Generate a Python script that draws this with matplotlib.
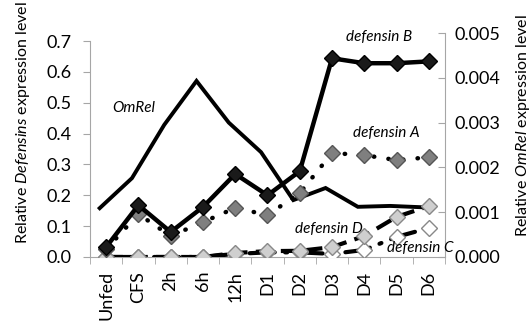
import matplotlib.pyplot as plt
import numpy as np

plt.rcParams['font.family'] = ['Lato', 'DejaVu Sans']
plt.rcParams['mathtext.fontset'] = 'custom'
plt.rcParams['mathtext.it'] = 'Lato:italic'
plt.rcParams['mathtext.rm'] = 'Lato'

# Data
timepoints = ['Unfed', 'CFS', '2h', '6h', '12h', 'D1', 'D2', 'D3', 'D4', 'D5', 'D6']
defensin_A = [0.025, 0.139, 0.068, 0.113, 0.159, 0.136, 0.207, 0.337, 0.330, 0.314, 0.323]
defensin_B = [0.032, 0.168, 0.081, 0.162, 0.269, 0.200, 0.278, 0.644, 0.628, 0.628, 0.634]
defensin_C = [0.0, 0.0, 0.0, 0.0, 0.010, 0.015, 0.015, 0.010, 0.023, 0.065, 0.094]
defensin_D = [0.0, 0.0, 0.0, 0.0, 0.013, 0.019, 0.020, 0.032, 0.068, 0.130, 0.165]
omrel = [0.00109, 0.00176, 0.00295, 0.00393, 0.00300, 0.00234, 0.00127, 0.00154, 0.00112, 0.00114, 0.00111]

x = np.arange(len(timepoints))
spine_col = '#a6a6a6'

fig = plt.figure(figsize=(5.31, 3.22), dpi=100)
pos = [0.1695, 0.2019, 0.6685, 0.6956]
ax = fig.add_axes(pos)

# defensins (left axis)
ax.plot(x, defensin_C, color='black', lw=3, ls=(0, (6, 2.5, 0.5, 2.5)), dash_capstyle='round',
        marker='D', ms=8, mfc='white', mec='#888888', mew=1, zorder=3)
ax.plot(x, defensin_D, color='black', lw=3, ls=(0, (4, 2)),
        marker='D', ms=8, mfc='#cfcfcf', mec='#888888', mew=1, zorder=3)
ax.plot(x, defensin_A, color='black', lw=3.2, ls=(0, (0.1, 3.2)), dash_capstyle='round',
        marker='D', ms=8, mfc='#7f7f7f', mec='#555555', mew=1, zorder=4)
ax.plot(x, defensin_B, color='black', lw=3.2, ls='-',
        marker='D', ms=8.5, mfc='#1a1a1a', mec='#000000', mew=1, zorder=5)

ax.set_xlim(-0.5, len(timepoints) - 0.5)
ax.set_ylim(0, 0.7 * 224 / 216)
ax.spines['left'].set_bounds(0, 0.7)
ax.set_yticks(np.arange(0, 0.71, 0.1))
ax.set_yticklabels([f'{v:.1f}' for v in np.arange(0, 0.71, 0.1)])
ax.set_xticks(x)
ax.set_xticklabels(timepoints, rotation=90)
ax.set_xticks(np.arange(-0.5, len(timepoints)), minor=True)
ax.tick_params(axis='x', which='major', length=0, pad=10, labelsize=13)
ax.tick_params(axis='x', which='minor', length=5, color=spine_col, direction='out')
ax.tick_params(axis='y', length=5, color=spine_col, direction='out', labelsize=13, pad=8)
for s in ['top', 'right']:
    ax.spines[s].set_visible(False)
for s in ['left', 'bottom']:
    ax.spines[s].set_color(spine_col)
ax.patch.set_alpha(0)

# OmRel (right axis)
ax2 = fig.add_axes(pos)
ax2.plot(x, omrel, color='black', lw=2.8, solid_joinstyle='miter', zorder=2)
ax2.set_xlim(-0.3, len(timepoints) - 0.3)
ax2.set_ylim(0, 0.005)
ax2.yaxis.tick_right()
ax2.set_yticks(np.arange(0, 0.0051, 0.001))
ax2.set_yticklabels([f'{v:.3f}' for v in np.arange(0, 0.0051, 0.001)])
ax2.tick_params(axis='y', length=5, color=spine_col, direction='in', labelsize=13, pad=7)
ax2.xaxis.set_visible(False)
for s in ['top', 'left', 'bottom']:
    ax2.spines[s].set_visible(False)
ax2.spines['right'].set_color(spine_col)
ax2.patch.set_alpha(0)
ax.set_zorder(2)

fig.text(0.043, 0.618, r'Relative $\it{Defensins}$ expression level', rotation=90,
         ha='center', va='center', fontsize=11.5)
fig.text(0.984, 0.61, r'Relative $\it{OmRel}$ expression level', rotation=90,
         ha='center', va='center', fontsize=11.5)

# series labels
ax.text(0.86, 0.482, 'OmRel', style='italic', fontsize=11, ha='center', va='center')
ax.text(8.46, 0.712, 'defensin B', style='italic', fontsize=11, ha='center', va='center')
ax.text(8.68, 0.401, 'defensin A', style='italic', fontsize=11, ha='center', va='center')
ax.text(6.89, 0.091, 'defensin D', style='italic', fontsize=11, ha='center', va='center')
ax.text(9.73, 0.029, 'defensin C', style='italic', fontsize=11, ha='center', va='center')

fig.savefig('out.png', dpi=100)
